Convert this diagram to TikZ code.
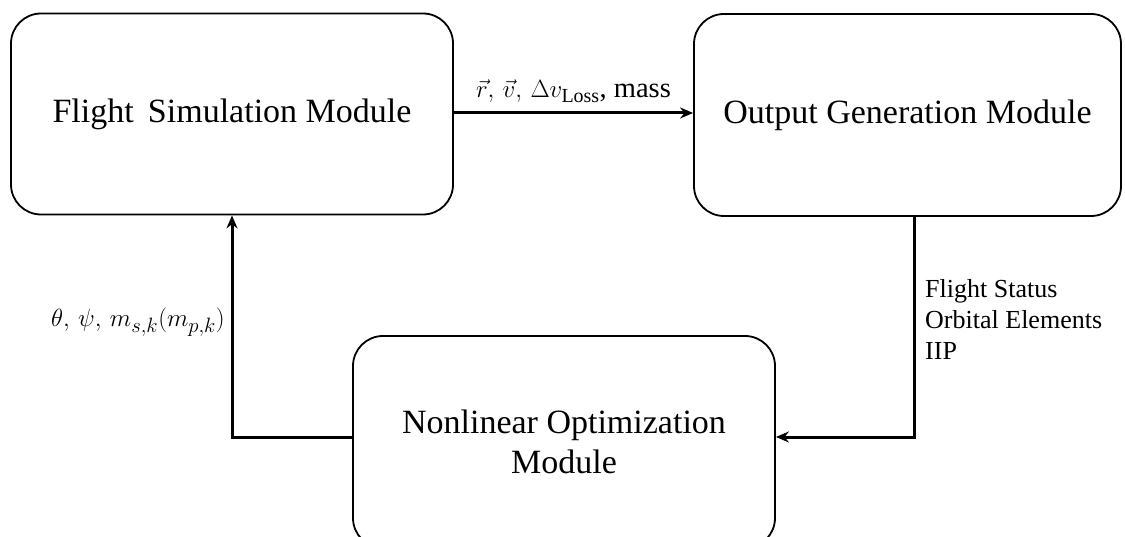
\documentclass[tikz,border=0pt]{standalone}
\usepackage{fontspec}
\setmainfont{Liberation Serif}
\usetikzlibrary{arrows.meta}
\begin{document}
\begin{tikzpicture}[x=1pt,y=-1pt,
  module/.style={draw, line width=1.8pt, rounded corners=30pt, align=center,
    font=\fontsize{34}{40}\selectfont, inner sep=0pt},
  flow/.style={line width=3pt, -{Stealth[length=13pt,width=11pt]}},
  lab/.style={font=\fontsize{26}{31}\selectfont, inner sep=0pt}]
\useasboundingbox (0,0) rectangle (1125,537);
\node[module, minimum width=442pt, minimum height=201pt] (fsm) at (232,114) {Flight\, Simulation Module};
\node[module, minimum width=427pt, minimum height=202pt] (ogm) at (907.5,115) {Output Generation Module};
\node[module, minimum width=422pt, minimum height=212pt] (nom) at (564,442) {Nonlinear Optimization\\Module};
\coordinate (c1) at (914,437);
\coordinate (c2) at (232,437);
\draw[flow] (fsm.east |- 0,113) -- (ogm.west |- 0,113)
  node[midway, above=9pt, font=\fontsize{28.5}{32}\selectfont, inner sep=0pt] {$\vec r,\,\vec v,\,\Delta v_{\mathrm{Loss}}$, \textrm{mass}};
\draw[flow] (ogm.south -| c1) -- (c1) -- (nom.east |- c1);
\draw[flow] (nom.west |- c2) -- (c2) -- (fsm.south);
\node[lab, align=left, anchor=north west] (st) at (925,279) {Flight Status\\Orbital Elements\\IIP};
\node[anchor=east, inner sep=0pt, font=\fontsize{28}{32}\selectfont] (ctl) at (225,322) {$\theta,\,\psi,\,m_{s,k}(m_{p,k})$};
\end{tikzpicture}
\end{document}
